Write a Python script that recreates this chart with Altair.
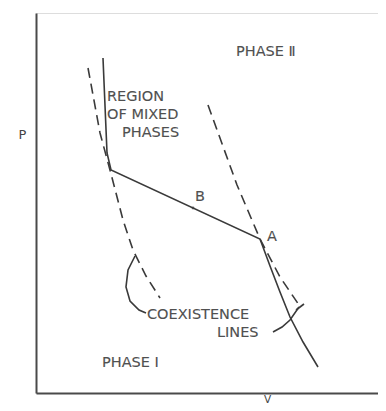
import altair as alt
import pandas as pd

# Solid isotherm-like curve (V, P) in arbitrary units
solid_v = [1.914, 2.029, 2.143, 6.4, 6.686, 6.971, 7.257, 7.629, 8.057]
solid_p = [8.816, 6.316, 5.868, 4.053, 3.342, 2.658, 2.0, 1.342, 0.684]

# Coexistence lines (dashed)
left_dash_v = [1.486, 1.829, 2.114, 2.486, 2.771, 3.143, 3.543]
left_dash_p = [8.553, 6.842, 5.868, 4.553, 3.763, 3.079, 2.5]
right_dash_v = [4.914, 5.743, 6.4, 6.971, 7.514]
right_dash_p = [7.579, 5.474, 4.053, 3.053, 2.316]

# Leader lines for the "COEXISTENCE LINES" annotation
left_leader_v = [2.829, 2.629, 2.571, 2.686, 2.943, 3.143]
left_leader_p = [3.605, 3.237, 2.789, 2.421, 2.184, 2.105]
right_leader_v = [6.771, 7.029, 7.257, 7.514]
right_leader_p = [1.605, 1.737, 1.921, 2.263]
tick_v = [7.429, 7.657]
tick_p = [2.184, 2.342]

# Point B
b_v = [4.486]
b_p = [4.868]

# Text labels
label_text = ["PHASE Ⅱ", "REGION", "OF MIXED", "PHASES", "B", "A",
              "COEXISTENCE", "LINES", "PHASE Ⅰ"]
label_v = [5.714, 2.029, 2.029, 2.457, 4.543, 6.6, 3.171, 5.171, 1.886]
label_p = [8.974, 7.789, 7.316, 6.842, 5.158, 4.105, 2.053, 1.579, 0.789]


def line_df(name, vs, ps):
    return pd.DataFrame({"series": name, "order": range(len(vs)), "V": vs, "P": ps})


solid_df = pd.concat([
    line_df("solid", solid_v, solid_p),
    line_df("leaderL", left_leader_v, left_leader_p),
    line_df("leaderR", right_leader_v, right_leader_p),
    line_df("tick", tick_v, tick_p),
])
dash_df = pd.concat([
    line_df("dashL", left_dash_v, left_dash_p),
    line_df("dashR", right_dash_v, right_dash_p),
])
labels_df = pd.DataFrame({"text": label_text, "V": label_v, "P": label_p})
b_df = pd.DataFrame({"V": b_v, "P": b_p})

ink = "#3a3a3a"
x_enc = alt.X("V:Q", scale=alt.Scale(domain=[0, 9.771], nice=False),
              axis=alt.Axis(title="V", ticks=False, labels=False, grid=False,
                            domainColor="#4a4a4a", domainWidth=2,
                            titleX=231, titleY=9, titleBaseline="alphabetic",
                            titleFontSize=10.5, titleFontWeight="normal",
                            titleColor="#444", titleFont="DejaVu Sans"))
y_enc = alt.Y("P:Q", scale=alt.Scale(domain=[0, 10], nice=False),
              axis=alt.Axis(title="P", ticks=False, labels=False, grid=False,
                            domainColor="#4a4a4a", domainWidth=2,
                            titleAngle=0, titleX=-14, titleY=121,
                            titleAlign="center", titleBaseline="middle",
                            titleFontSize=13, titleFontWeight="normal",
                            titleColor="#444", titleFont="DejaVu Sans"))

solid = alt.Chart(solid_df).mark_line(color=ink, strokeWidth=1.6).encode(
    x=x_enc, y=y_enc, detail="series:N", order="order:Q")
dashed = alt.Chart(dash_df).mark_line(color=ink, strokeWidth=1.6,
                                      strokeDash=[10, 6]).encode(
    x="V:Q", y="P:Q", detail="series:N", order="order:Q")
bpt = alt.Chart(b_df).mark_point(color=ink, filled=True, size=8).encode(
    x="V:Q", y="P:Q")
texts = alt.Chart(labels_df).mark_text(
    align="left", baseline="middle", font="DejaVu Sans", fontSize=14.5,
    color="#505050", stroke="#505050", strokeWidth=0.12).encode(
    x="V:Q", y="P:Q", text="text:N")

chart = alt.layer(solid, dashed, bpt, texts).properties(
    width=342, height=380,
    padding={"left": 28, "top": 5, "right": 0, "bottom": 10},
    autosize="none",
).configure_view(stroke=None).configure(background="white")

chart.save("out.html", embed_options={"renderer": "svg", "actions": False})
